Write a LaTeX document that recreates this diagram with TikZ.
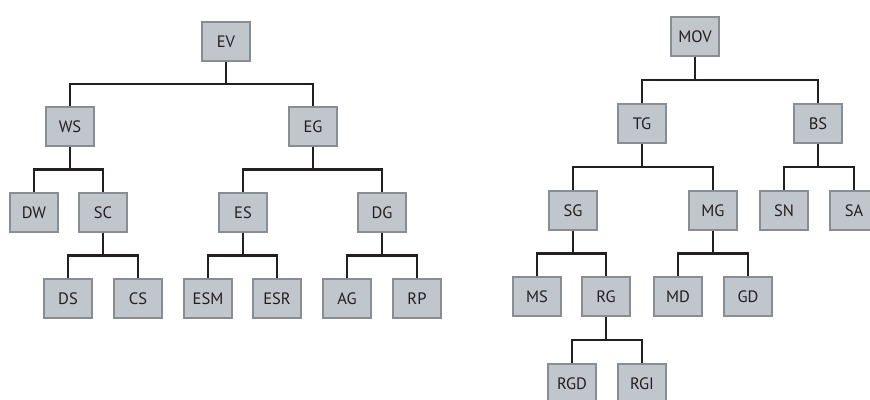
\documentclass[tikz,border=0pt]{standalone}
\usepackage{fontspec}
\setmainfont{PT Sans}
\definecolor{boxfill}{HTML}{C1C5CC}
\definecolor{boxborder}{HTML}{878D93}
\definecolor{linecol}{HTML}{231F20}
\begin{document}
\begin{tikzpicture}[x=1pt,y=-1pt,
  box/.style={draw=boxborder, fill=boxfill, line width=2.4pt, minimum width=48pt, minimum height=39pt, inner sep=0pt, font=\fontsize{16.5}{19}\selectfont, text=linecol},
  conn/.style={draw=linecol, line width=2.7pt, line join=miter}]
\useasboundingbox (0,0) rectangle (870,399);
\clip (0,0) rectangle (870,399);
% left tree
\node[box] (EV) at (226,41.5) {EV};
\node[box] (WS) at (70,126.5) {WS};
\node[box] (EG) at (313,126.5) {EG};
\node[box] (DW) at (34,212.5) {DW};
\node[box] (SC) at (103,212.5) {SC};
\node[box] (ES) at (243,212.5) {ES};
\node[box] (DG) at (382,212.5) {DG};
\node[box] (DS) at (68,298.5) {DS};
\node[box] (CS) at (138,298.5) {CS};
\node[box] (ESM) at (208,298.5) {ESM};
\node[box] (ESR) at (277,298.5) {ESR};
\node[box] (AG) at (347,298.5) {AG};
\node[box] (RP) at (417,298.5) {RP};
% right tree
\node[box] (MOV) at (695,36.5) {MOV};
\node[box] (TG) at (642,123.5) {TG};
\node[box] (BS) at (818,123.5) {BS};
\node[box] (SG) at (573,210.5) {SG};
\node[box] (MG) at (713,210.5) {MG};
\node[box] (SN) at (784,210.5) {SN};
\node[box] (SA) at (854,210.5) {SA};
\node[box] (MS) at (537,296.5) {MS};
\node[box] (RG) at (606,296.5) {RG};
\node[box] (MD) at (678,296.5) {MD};
\node[box] (GD) at (748,296.5) {GD};
\node[box] (RGD) at (572,383.5) {RGD};
\node[box] (RGI) at (642,383.5) {RGI};
% connectors
\foreach \p/\a/\b in {EV/WS/EG, WS/DW/SC, EG/ES/DG, SC/DS/CS, ES/ESM/ESR, DG/AG/RP,
                      MOV/TG/BS, TG/SG/MG, BS/SN/SA, SG/MS/RG, MG/MD/GD, RG/RGD/RGI}{
  \path (\p.south) -- coordinate[pos=0.5] (m\p) (\p.south |- \a.north);
  \draw[conn] (\a.north) |- (m\p) -| (\b.north);
  \draw[conn] (\p.south) -- (m\p);
}
\end{tikzpicture}
\end{document}
